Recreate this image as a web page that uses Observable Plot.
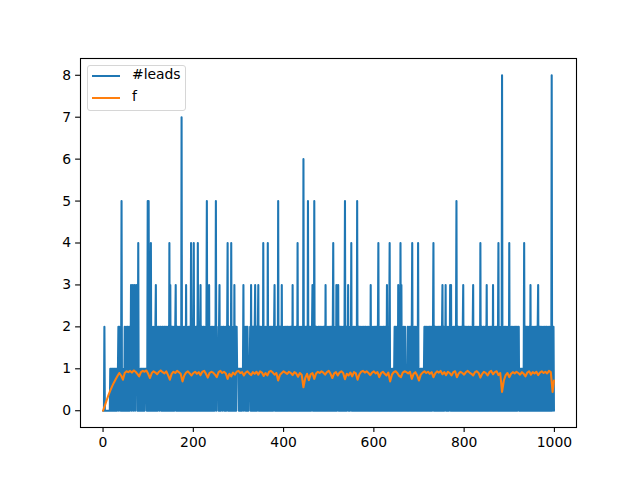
<!DOCTYPE html>
<html>
<head>
<meta charset="utf-8">
<script src="https://cdn.jsdelivr.net/npm/d3@7"></script>
<script src="https://cdn.jsdelivr.net/npm/@observablehq/plot@0.6"></script>
<style>
  html, body { margin: 0; padding: 0; background: white; }
  #wrap { position: relative; width: 640px; height: 480px; font-family: "DejaVu Sans", sans-serif; }
  #legend {
    position: absolute; left: 87px; top: 65px; width: 97px; height: 44px;
    border: 1px solid #d6d6d6; border-radius: 3px; background: rgba(255,255,255,0.8);
    font-size: 13.9px; color: #000;
  }
  .item { position: absolute; left: 0; height: 16px; }
  .sw { position: absolute; left: 4px; width: 28px; height: 0; border-top: 2px solid; }
  .lab { position: absolute; left: 44px; top: -9px; white-space: nowrap; }
</style>
</head>
<body>
<div id="wrap">
  <div id="chart"></div>
  <div id="legend"></div>
</div>
<script>
// ---- data ----
const seriesNames = ["#leads", "f"];
const seriesColors = ["#1f77b4", "#ff7f0e"];
const xTicks = [0, 200, 400, 600, 800, 1000];
const yTicks = [0, 1, 2, 3, 4, 5, 6, 7, 8];

// #leads per step (0..999), one digit per step, 50 steps per row
const leadsRows = [
  "0002000000" + "0000001010" + "1101011010" + "1011202120" + "1501101021",
  "0210220120" + "2130213021" + "3021320140" + "1101011010" + "1101111015",
  "0510104021" + "0201202301" + "2012102120" + "1202012021" + "0210210403",
  "0120210201" + "2301202102" + "1020701201" + "2010302102" + "0120140210",
  "2401201201" + "4021023012" + "0120210202" + "5012030210" + "2102012021",
  "5021110230" + "2012102120" + "1020124012" + "0210402102" + "0301202111",
  "1010110101" + "1301120120" + "2101112030" + "1202102301" + "2012301202",
  "1021040210" + "2102040120" + "1202102012" + "3021021050" + "1202103021",
  "0210201202" + "1020120210" + "3021021021" + "0402102102" + "1020601021",
  "0210501201" + "2012301050" + "1202101202" + "1021020120" + "2103021021",
  "0201202102" + "4021020301" + "2301202102" + "1021025012" + "0213021021",
  "4021021020" + "1205012021" + "0210201201" + "2021021020" + "1203021021",
  "0201202102" + "4021021020" + "1202102103" + "0210240110" + "1011012021",
  "0210302104" + "0302102102" + "1011021021" + "0210240210" + "2102012040",
  "1101011011" + "0120210210" + "2012021020" + "1240120210" + "2102012021",
  "0230120213" + "0210210213" + "0302102102" + "1025012021" + "0210210230",
  "1202102012" + "0210201202" + "3021021021" + "0210204012" + "0120210201",
  "3021021021" + "0210302102" + "1021024021" + "0210801202" + "1021020120",
  "4021021021" + "0201202102" + "1201101101" + "1014012021" + "0210210302",
  "1021020120" + "2102301202" + "1021021020" + "1202102012" + "0210802120"
];
const leads = leadsRows.join("").split("").map(Number);

// f sampled every 4 steps (percent values)
const fStep = 4;
const fPercent = (
  "0 12 25 37 48 58 67 75 83 90 84 74 90 94 92 95 91 96 93 88 " +
  "82 92 95 93 96 88 78 90 94 91 87 93 96 92 89 94 85 74 88 93 " +
  "90 95 92 88 70 84 91 94 89 84 90 93 88 92 85 93 95 88 79 90 " +
  "93 91 86 80 92 95 90 93 89 76 88 82 91 86 93 95 90 92 84 91 " +
  "94 89 85 92 88 93 86 94 91 83 90 84 93 95 91 86 90 72 86 90 " +
  "94 91 88 93 90 85 92 89 81 90 86 56 78 88 73 87 90 76 89 93 " +
  "90 94 91 86 92 95 88 78 89 92 84 91 94 90 75 88 84 91 82 92 " +
  "89 74 87 93 95 91 94 90 85 91 94 89 92 80 90 93 88 84 91 70 " +
  "86 92 94 90 83 80 91 94 92 89 93 76 88 92 84 72 86 91 94 90 " +
  "93 88 92 80 89 94 91 95 87 92 85 93 90 84 92 94 80 89 93 90 " +
  "86 92 95 91 88 84 92 94 90 79 88 93 90 84 92 95 87 92 94 85 " +
  "90 45 72 85 90 80 88 92 89 93 90 86 92 88 82 91 94 86 92 89 " +
  "93 85 91 94 90 93 89 95 92 45 72"
).trim().split(/\s+/).map(Number);
const f = fPercent.map(v => v / 100);

// ---- tables for Plot ----
const lastIndex = leads.length - 1;
const leadsData = leads.map((v, i) => ({step: i, value: v}));
const fData = f.map((v, i) => ({step: Math.min(i * fStep, lastIndex), value: v}));

const xPad = lastIndex * 0.05;
const yPad = 8 * 0.05;
const lw = 2.08; // 1.5pt at 100dpi

const chart = Plot.plot({
  width: 640,
  height: 480,
  marginLeft: 80,
  marginRight: 64,
  marginTop: 58,
  marginBottom: 53,
  style: { fontFamily: "DejaVu Sans, sans-serif", fontSize: "13.9px", background: "white", color: "black" },
  x: { domain: [-xPad, lastIndex + xPad], label: null },
  y: { domain: [-yPad, 8 + yPad], label: null },
  marks: [
    Plot.line(leadsData, { x: "step", y: "value", stroke: seriesColors[0], strokeWidth: lw, strokeLinejoin: "round" }),
    Plot.line(fData, { x: "step", y: "value", stroke: seriesColors[1], strokeWidth: lw, strokeLinejoin: "round" }),
    Plot.frame({ stroke: "black", strokeWidth: 1.1 }),
    Plot.axisX({ ticks: xTicks, tickFormat: d3.format("d"), tickSize: 4.9, tickPadding: 4.5, strokeWidth: 1.1, label: null }),
    Plot.axisY({ ticks: yTicks, tickFormat: d3.format("d"), tickSize: 4.9, tickPadding: 4.5, strokeWidth: 1.1, label: null })
  ]
});
document.getElementById("chart").appendChild(chart);

// legend
const legend = document.getElementById("legend");
seriesNames.forEach((name, k) => {
  const item = document.createElement("div");
  item.className = "item";
  item.style.top = (9 + k * 22) + "px";
  const sw = document.createElement("div");
  sw.className = "sw";
  sw.style.borderColor = seriesColors[k];
  const lab = document.createElement("div");
  lab.className = "lab";
  lab.textContent = name;
  item.appendChild(sw);
  item.appendChild(lab);
  legend.appendChild(item);
});
</script>
</body>
</html>
